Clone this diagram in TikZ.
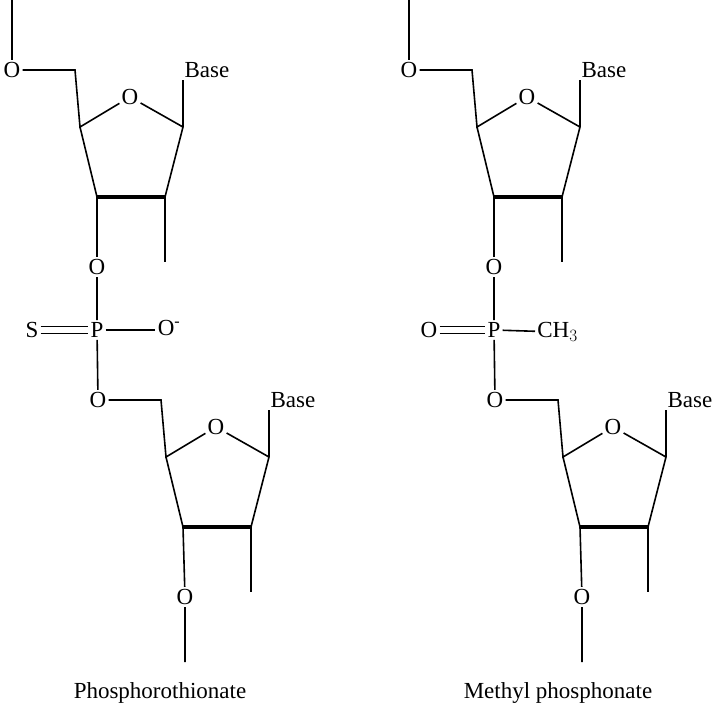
\documentclass[tikz,border=0pt]{standalone}
\usepackage{fontspec}
\setmainfont{Liberation Serif}
\tikzset{atom/.style={inner sep=1.5pt,font=\fontsize{23}{26}\selectfont},
  wedge/.style={line width=4pt}}
% one furanose ring: #1 prefix, #2 #3 shift
\newcommand{\sugar}[3]{%
\begin{scope}[shift={(#2,#3)}]
\node[atom] (#1ofive) at (12,70) {O};
\coordinate (#1cfive) at (75,70);
\coordinate (#1cfour) at (80,127);
\node[atom] (#1ofour) at (130,97) {O};
\coordinate (#1cone) at (183,127);
\coordinate (#1ctwo) at (165,197);
\coordinate (#1cthree) at (97,197);
\node[atom] (#1base) at (207,70) {Base};
\draw (#1ofive) -- (#1cfive) -- (#1cfour) -- (#1ofour) -- (#1cone) -- (#1ctwo);
\draw (#1cfour) -- (#1cthree);
\draw[wedge] (#1cthree) -- (#1ctwo);
\draw (#1cone) -- (#1base.south -| #1cone);
\draw (#1ctwo) -- ++(0,65);
\end{scope}}
\begin{document}
\begin{tikzpicture}[x=1pt,y=-1pt,line width=1.6pt]
\useasboundingbox (0,0) rectangle (720,711);

% phosphorothioate
\sugar{a}{0}{0}
\sugar{b}{86}{330}
\draw (aofive) -- ++(0,-70);
\node[atom] (aothree) at (97,267) {O};
\node[atom] (ap) at (97,330) {P};
\node[atom] (as) at (32,330) {S};
\node[atom] (aom) at (169,328) {O\textsuperscript{-}};
\draw (acthree) -- (aothree) -- (ap) -- (bofive);
\draw ([yshift=-3.5pt]as.east) -- ([yshift=-3.5pt]ap.west);
\draw ([yshift=3.5pt]as.east) -- ([yshift=3.5pt]ap.west);
\draw (ap) -- (aom.west |- ap);
\node[atom] (bothree) at (185,597) {O};
\draw (bcthree) -- (bothree) -- ++(0,65);
\node[atom] (acap) at (160,693) {Phosphorothionate};

% methyl phosphonate
\sugar{c}{397}{0}
\sugar{d}{483}{330}
\draw (cofive) -- ++(0,-70);
\node[atom] (cothree) at (494,267) {O};
\node[atom] (cp) at (494,330) {P};
\node[atom] (co) at (429,330) {O};
\node[atom,anchor=west] (cme) at (535,332) {CH$_3$};
\draw (ccthree) -- (cothree) -- (cp) -- (dofive);
\draw ([yshift=-3.5pt]co.east) -- ([yshift=-3.5pt]cp.west);
\draw ([yshift=3.5pt]co.east) -- ([yshift=3.5pt]cp.west);
\draw (cp) -- (cme);
\node[atom] (dothree) at (582,597) {O};
\draw (dcthree) -- (dothree) -- ++(0,65);
\node[atom] (ccap) at (558,693) {Methyl phosphonate};
\end{tikzpicture}
\end{document}
